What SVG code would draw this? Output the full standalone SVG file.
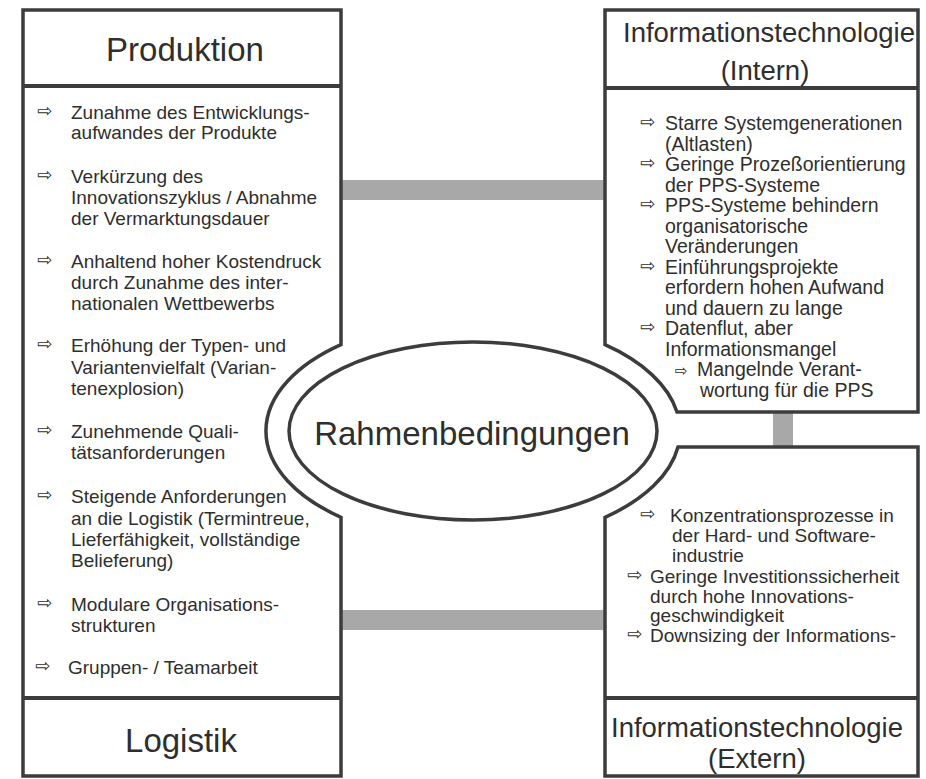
<svg xmlns="http://www.w3.org/2000/svg" width="926" height="779" viewBox="0 0 926 779">
<style>
.box{fill:#fff;stroke:#3c3c3c;stroke-width:3.5;stroke-linejoin:miter}
.div{stroke:#3c3c3c;stroke-width:4}
.bar{fill:#a8a8a8}
.t{font-family:"Liberation Sans",Arial,sans-serif;font-size:19px;fill:#2e2e2e}
.tr{font-family:"Liberation Sans",Arial,sans-serif;font-size:19.5px;fill:#2e2e2e}
.a{font-family:"DejaVu Sans",sans-serif;font-size:18px;fill:#2e2e2e}
.h{font-family:"Liberation Sans",Arial,sans-serif;font-size:33px;fill:#2e2e2e;text-anchor:middle}
.hi{font-family:"Liberation Sans",Arial,sans-serif;font-size:27.5px;fill:#2e2e2e;text-anchor:middle}
</style>
<rect width="926" height="779" fill="#fff"/>
<g id="connectors">
<rect class="bar" x="341" y="180" width="264" height="20"/>
<rect class="bar" x="341" y="610" width="264" height="20"/>
<rect class="bar" x="773" y="412" width="20" height="35"/>
</g>
<g id="produktion-logistik">
<path class="box" d="M23,10 H341 V344.7 A207,112 0 0 0 341,517.3 V776 H23 Z"/>
<line class="div" x1="23" y1="86" x2="341" y2="86"/>
<line class="div" x1="23" y1="698" x2="341" y2="698"/>
<text class="h" x="185" y="61">Produktion</text>
<text class="h" x="181" y="752">Logistik</text>
<g class="a">
<text x="37" y="117">⇨</text><text x="37" y="181">⇨</text><text x="37" y="266">⇨</text><text x="37" y="350">⇨</text><text x="37" y="436">⇨</text><text x="37" y="501">⇨</text><text x="37" y="609">⇨</text><text x="35" y="672">⇨</text>
</g>
<text class="t">
<tspan x="71" y="119">Zunahme des Entwicklungs-</tspan>
<tspan x="71" y="139">aufwandes der Produkte</tspan>
<tspan x="71" y="183">Verkürzung des</tspan>
<tspan x="71" y="204">Innovationszyklus / Abnahme</tspan>
<tspan x="71" y="225">der Vermarktungsdauer</tspan>
<tspan x="71" y="268">Anhaltend hoher Kostendruck</tspan>
<tspan x="71" y="289">durch Zunahme des inter-</tspan>
<tspan x="71" y="310">nationalen Wettbewerbs</tspan>
<tspan x="71" y="352">Erhöhung der Typen- und</tspan>
<tspan x="71" y="374">Variantenvielfalt (Varian-</tspan>
<tspan x="71" y="395">tenexplosion)</tspan>
<tspan x="71" y="438">Zunehmende Quali-</tspan>
<tspan x="71" y="459">tätsanforderungen</tspan>
<tspan x="71" y="503">Steigende Anforderungen</tspan>
<tspan x="71" y="525">an die Logistik (Termintreue,</tspan>
<tspan x="71" y="546">Lieferfähigkeit, vollständige</tspan>
<tspan x="71" y="567">Belieferung)</tspan>
<tspan x="71" y="611">Modulare Organisations-</tspan>
<tspan x="71" y="632">strukturen</tspan>
<tspan x="68" y="674">Gruppen- / Teamarbeit</tspan>
</text>
</g>
<g id="it-intern">
<path class="box" d="M605,10 H918 V412 H677 A207,112 0 0 0 605,344.7 Z"/>
<line class="div" x1="605" y1="88" x2="918" y2="88"/>
<text class="hi" x="769" y="42">Informationstechnologie</text>
<text class="hi" x="765" y="80">(Intern)</text>
<g class="a">
<text x="640" y="128">⇨</text><text x="640" y="169">⇨</text><text x="640" y="210">⇨</text><text x="640" y="271.5">⇨</text><text x="640" y="333">⇨</text><text x="675" y="375.5" font-size="15">⇨</text>
</g>
<text class="tr">
<tspan x="665" y="130">Starre Systemgenerationen</tspan>
<tspan x="665" y="150.5">(Altlasten)</tspan>
<tspan x="665" y="171">Geringe Prozeßorientierung</tspan>
<tspan x="665" y="191.5">der PPS-Systeme</tspan>
<tspan x="665" y="212">PPS-Systeme behindern</tspan>
<tspan x="665" y="232.5">organisatorische</tspan>
<tspan x="665" y="253">Veränderungen</tspan>
<tspan x="665" y="273.5">Einführungsprojekte</tspan>
<tspan x="665" y="294">erfordern hohen Aufwand</tspan>
<tspan x="665" y="314.5">und dauern zu lange</tspan>
<tspan x="665" y="335">Datenflut, aber</tspan>
<tspan x="665" y="355.5">Informationsmangel</tspan>
<tspan x="697" y="376">Mangelnde Verant-</tspan>
<tspan x="700" y="396.5">wortung für die PPS</tspan>
</text>
</g>
<g id="it-extern">
<path class="box" d="M678,447 H918 V776 H605 V517.3 A207,112 0 0 0 678,447 Z"/>
<line class="div" x1="605" y1="698" x2="918" y2="698"/>
<text class="hi" x="757" y="737">Informationstechnologie</text>
<text class="hi" x="757" y="768">(Extern)</text>
<g class="a">
<text x="640" y="520">⇨</text><text x="627" y="581">⇨</text><text x="627" y="640">⇨</text>
</g>
<text class="t">
<tspan x="670" y="522">Konzentrationsprozesse in</tspan>
<tspan x="672" y="542">der Hard- und Software-</tspan>
<tspan x="672" y="562">industrie</tspan>
<tspan x="650" y="583">Geringe Investitionssicherheit</tspan>
<tspan x="650" y="603">durch hohe Innovations-</tspan>
<tspan x="650" y="622">geschwindigkeit</tspan>
<tspan x="650" y="642">Downsizing der Informations-</tspan>
</text>
</g>
<g id="rahmenbedingungen">
<ellipse cx="473" cy="431" rx="184" ry="89" fill="#fff" stroke="#3c3c3c" stroke-width="3.5"/>
<text class="h" x="472" y="445">Rahmenbedingungen</text>
</g>
</svg>
